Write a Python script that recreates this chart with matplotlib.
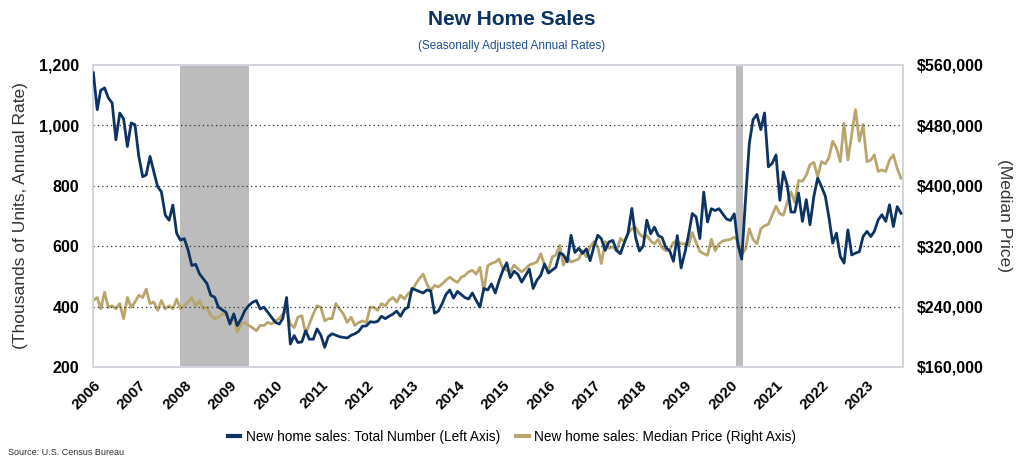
import numpy as np
import pandas as pd
import matplotlib
matplotlib.use("Agg")
import matplotlib.pyplot as plt
from matplotlib.ticker import FuncFormatter, FixedLocator

plt.rcParams['font.family'] = ['Liberation Sans', 'DejaVu Sans']

# monthly data, Jan 2006 - Oct 2023
START = "2006-01-01"
END = "2023-10-01"

# new home sales, total number (thousands, SAAR)
sales = [
    1174, 1052, 1116, 1124, 1091, 1074, 952, 1041, 1021, 930, 1008, 1002,   # 2006
    897, 830, 836, 897, 847, 797, 780, 703, 686, 736, 642, 620,             # 2007
    625, 586, 536, 540, 509, 492, 476, 437, 431, 398, 389, 381,             # 2008
    342, 376, 337, 359, 387, 403, 414, 420, 392, 398, 381, 365,             # 2009
    348, 342, 360, 430, 276, 304, 281, 283, 320, 292, 292, 326,             # 2010
    305, 265, 300, 310, 305, 300, 298, 296, 305, 310, 318, 335,             # 2011
    336, 350, 348, 351, 368, 360, 368, 375, 385, 368, 390, 398,             # 2012
    460, 455, 450, 445, 455, 452, 378, 385, 410, 440, 455, 428,             # 2013
    450, 440, 430, 425, 445, 420, 398, 460, 455, 475, 445, 485,             # 2014
    520, 545, 496, 517, 507, 481, 502, 524, 460, 487, 504, 541,             # 2015
    511, 521, 530, 578, 571, 548, 636, 579, 593, 576, 591, 552,             # 2016
    599, 636, 625, 586, 614, 619, 586, 575, 611, 642, 725, 629,             # 2017
    584, 601, 686, 641, 663, 635, 629, 595, 584, 550, 635, 528,             # 2018
    579, 641, 708, 697, 625, 779, 680, 724, 718, 724, 707, 690,             # 2019
    685, 707, 607, 557, 752, 941, 1019, 1036, 986, 1041, 863, 874,         # 2020
    902, 752, 846, 802, 713, 713, 776, 682, 754, 671, 765, 825,             # 2021
    798, 765, 698, 610, 643, 566, 544, 654, 571, 577, 582, 632,             # 2022
    649, 632, 649, 687, 704, 682, 737, 665, 731, 709,                       # 2023
]

# new home sales, median price (thousands of dollars)
price = [
    248, 252, 237, 259, 239, 241, 237, 244, 224, 252, 239, 246,             # 2006
    255, 252, 263, 244, 246, 235, 248, 237, 241, 237, 250, 237,             # 2007
    241, 246, 252, 241, 248, 237, 239, 228, 224, 226, 230, 230,             # 2008
    219, 226, 206, 217, 219, 215, 212, 208, 215, 215, 219, 217,             # 2009
    221, 224, 230, 235, 217, 212, 226, 228, 204, 217, 230, 241,             # 2010
    239, 221, 224, 224, 244, 237, 230, 219, 226, 215, 219, 221,             # 2011
    219, 239, 239, 235, 244, 241, 248, 252, 246, 255, 250, 257,             # 2012
    261, 270, 277, 283, 270, 261, 268, 266, 270, 275, 279, 275,             # 2013
    272, 279, 281, 286, 288, 283, 292, 261, 294, 297, 299, 303,             # 2014
    290, 288, 286, 295, 290, 286, 290, 295, 297, 299, 310, 295,             # 2015
    288, 306, 308, 321, 295, 306, 299, 301, 303, 314, 306, 319,             # 2016
    326, 319, 297, 326, 317, 319, 314, 330, 326, 337, 343, 345,             # 2017
    336, 332, 334, 327, 323, 329, 318, 314, 316, 325, 327, 323,             # 2018
    323, 322, 338, 325, 313, 310, 308, 329, 314, 323, 327, 328,             # 2019
    329, 332, 327, 309, 316, 343, 329, 323, 343, 347, 349, 361,             # 2020
    373, 363, 361, 378, 392, 378, 407, 406, 414, 428, 431, 412,             # 2021
    432, 429, 437, 459, 450, 432, 483, 434, 468, 501, 459, 481,             # 2022
    432, 434, 441, 419, 421, 419, 434, 441, 423, 410,                       # 2023
]

recessions = [("2007-12-01", "2009-06-01"), ("2020-02-15", "2020-04-10")]
years = list(range(2006, 2024))

NAVY = '#0c3361'
GOLD = '#b8a66d'

dates = pd.date_range(START, END, freq='MS')
price_dollars = np.array(price) * 1000

fig = plt.figure(figsize=(10.24, 4.65), dpi=100)
ax = fig.add_axes([0.0908, 0.2108, 0.791, 0.6495])
ax2 = ax.twinx()

# shading sits on the lower axes so both lines are drawn over it
for a, b in recessions:
    ax2.axvspan(pd.Timestamp(a), pd.Timestamp(b), color='#bcbcbc', lw=0, zorder=0)

ax.plot(dates, sales, color=NAVY, lw=2.0, zorder=3,
        label='New home sales: Total Number (Left Axis)')
ax2.plot(dates, price_dollars, color=GOLD, lw=2.0, zorder=2,
         label='New home sales: Median Price (Right Axis)')
ax.set_zorder(ax2.get_zorder() + 1)
ax.patch.set_visible(False)

ax.set_xlim(pd.Timestamp("2005-12-29"), pd.Timestamp("2023-10-17"))
ax.set_ylim(200, 1200)
ax2.set_ylim(160000, 560000)

ax.yaxis.set_major_locator(FixedLocator([200, 400, 600, 800, 1000, 1200]))
ax2.yaxis.set_major_locator(FixedLocator(np.arange(160000, 560001, 80000)))
ax.yaxis.set_major_formatter(FuncFormatter(lambda v, p: f"{v:,.0f}"))
ax2.yaxis.set_major_formatter(FuncFormatter(lambda v, p: f"${v:,.0f}"))

for g in [400, 600, 800, 1000]:
    ax.axhline(g, color='#333333', lw=0.9, ls=(0, (1, 2.5)), zorder=1)

ax.set_xticks([pd.Timestamp(f"{y}-01-01") for y in years])
ax.set_xticklabels([str(y) for y in years], rotation=45, ha='right',
                   rotation_mode='anchor', fontsize=11, fontweight='bold')
ax.tick_params(axis='x', length=0, pad=8)
ax.tick_params(axis='y', length=0, pad=10, labelsize=11.5)
ax2.tick_params(axis='y', length=0, pad=10, labelsize=11.5)
for lab in ax.get_yticklabels() + ax2.get_yticklabels():
    lab.set_fontweight('bold')

for a in (ax, ax2):
    for s in a.spines.values():
        s.set_color('#d0d6dd')
        s.set_linewidth(1.2)

ax.set_ylabel('(Thousands of Units, Annual Rate)', fontsize=12.5, color='#333333', labelpad=8)
ax2.set_ylabel('(Median Price)', fontsize=12.5, color='#333333', rotation=270, labelpad=20)

fig.text(0.5, 0.957, 'New Home Sales', ha='center', va='center',
         fontsize=15, fontweight='bold', color=NAVY)
fig.text(0.5, 0.9, '(Seasonally Adjusted Annual Rates)', ha='center', va='center',
         fontsize=8.5, color='#1f4e8c')

h1, l1 = ax.get_legend_handles_labels()
h2, l2 = ax2.get_legend_handles_labels()
fig.legend(h1 + h2, l1 + l2, loc='center', bbox_to_anchor=(0.5, 0.06), ncol=2,
           frameon=False, fontsize=9.8, handlelength=0.9, handletextpad=0.4,
           columnspacing=1.2)
for lh in fig.legends[0].get_lines():
    lh.set_linewidth(3)

fig.text(0.008, 0.022, 'Source: U.S. Census Bureau', fontsize=6.5, color='#333333')

fig.savefig('out.png', dpi=100)
